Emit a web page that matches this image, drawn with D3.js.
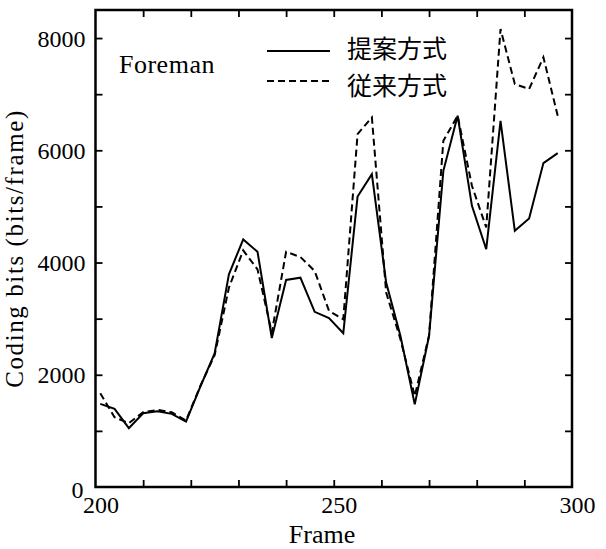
<!DOCTYPE html>
<html>
<head>
<meta charset="utf-8">
<script src="https://cdn.jsdelivr.net/npm/d3@7"></script>
<style>
  body { margin: 0; background: #fff; }
  svg { display: block; }
</style>
</head>
<body>
<div id="chart"></div>
<script>
// ─── DATA ───────────────────────────────────────────────────────────────────────
const frames = [201, 204, 207, 210, 213, 216, 219, 222, 225, 228, 231, 234, 237, 240, 243, 246, 249,
                252, 255, 258, 261, 264, 267, 270, 273, 276, 279, 282, 285, 288, 291, 294, 297];
// 提案方式 (solid)
const proposed = [1481, 1392, 1048, 1315, 1350, 1303, 1167, 1790, 2380, 3790, 4412, 4192, 2653, 3689, 3730, 3121, 3009,
                  2739, 5177, 5575, 3643, 2690, 1472, 2690, 5634, 6616, 5010, 4237, 6526, 4564, 4785, 5772, 5950];
// 従来方式 (dashed)
const conventional = [1670, 1243, 1137, 1332, 1374, 1332, 1185, 1800, 2350, 3552, 4216, 3879, 2753, 4192, 4098, 3849, 3139,
                      2988, 6289, 6587, 3465, 2632, 1620, 2700, 6170, 6616, 5367, 4624, 8162, 7181, 7092, 7658, 6616];
const xTickLabels = [200, 250, 300];
const xMinorTicks = [210, 220, 230, 240, 250, 260, 270, 280, 290];
const yTickLabels = [0, 2000, 4000, 6000, 8000];
const yMinorTicks = [1000, 2000, 3000, 4000, 5000, 6000, 7000, 8000];
const seriesNames = ['提案方式', '従来方式'];
const sequenceName = 'Foreman';

// ─── CANVAS ─────────────────────────────────────────────────────────────────────
const W = 606, H = 549;
const box = { left: 95.5, right: 572, top: 10, bottom: 487 };
const serif = '"Liberation Serif", "Times New Roman", serif';

const svg = d3.select('#chart').append('svg')
    .attr('width', W)
    .attr('height', H)
    .style('background', '#fff');

// ─── SCALES ─────────────────────────────────────────────────────────────────────
const x = d3.scaleLinear().domain([200, 300]).range([box.left, box.right]);
const y = d3.scaleLinear().domain([0, 8500]).range([box.bottom, box.top]);

// ─── TICKS (inside the box) ─────────────────────────────────────────────────────
function ticks(axis, tr) {
  const g = svg.append('g').attr('transform', tr).call(axis);
  g.select('.domain').remove();
  g.selectAll('line').attr('stroke', '#000').attr('stroke-width', 1.8);
  g.selectAll('text').remove();
}
ticks(d3.axisBottom(x).tickValues(xMinorTicks).tickSize(-7), `translate(0,${box.bottom})`);
ticks(d3.axisTop(x).tickValues(xMinorTicks).tickSize(-7), `translate(0,${box.top})`);
ticks(d3.axisLeft(y).tickValues(yMinorTicks).tickSize(-7), `translate(${box.left},0)`);
ticks(d3.axisRight(y).tickValues(yMinorTicks).tickSize(-7), `translate(${box.right},0)`);

// ─── TICK LABELS ────────────────────────────────────────────────────────────────
const xLab = svg.append('g')
    .attr('transform', `translate(5,${box.bottom})`)
    .call(d3.axisBottom(x).tickValues(xTickLabels).tickSize(0).tickFormat(d3.format('d')));
xLab.select('.domain').remove();
xLab.selectAll('text')
    .attr('y', 26).attr('dy', 0)
    .style('font-family', serif).style('font-size', '24px').attr('fill', '#000');

const yLab = svg.append('g')
    .attr('transform', `translate(${box.left},0)`)
    .call(d3.axisLeft(y).tickValues(yTickLabels).tickSize(0).tickPadding(10).tickFormat(d3.format('d')));
yLab.select('.domain').remove();
yLab.selectAll('text')
    .attr('dy', d => d === 0 ? '0.42em' : '0.34em')
    .attr('dx', d => d === 0 ? -2 : 0)
    .style('font-family', serif).style('font-size', '24px').attr('fill', '#000');

// ─── LINES ──────────────────────────────────────────────────────────────────────
const line = vals => d3.line()
    .x((d, i) => x(frames[i]))
    .y(d => y(d))(vals);

svg.append('path')
    .attr('d', line(conventional))
    .attr('fill', 'none')
    .attr('stroke', '#000')
    .attr('stroke-width', 2)
    .attr('stroke-dasharray', '7,4')
    .attr('stroke-linejoin', 'miter');

svg.append('path')
    .attr('d', line(proposed))
    .attr('fill', 'none')
    .attr('stroke', '#000')
    .attr('stroke-width', 2)
    .attr('stroke-linejoin', 'miter');

// ─── BOX ────────────────────────────────────────────────────────────────────────
svg.append('rect')
    .attr('x', box.left).attr('y', box.top)
    .attr('width', box.right - box.left).attr('height', box.bottom - box.top)
    .attr('fill', 'none').attr('stroke', '#000').attr('stroke-width', 2.5);

// ─── LEGEND ─────────────────────────────────────────────────────────────────────
const legend = [{ y: 51, ty: 49, dash: null }, { y: 81, ty: 86, dash: '7,4' }];
legend.forEach((l, i) => {
  svg.append('line')
      .attr('x1', 267).attr('x2', 330)
      .attr('y1', l.y).attr('y2', l.y)
      .attr('stroke', '#000').attr('stroke-width', 2)
      .attr('stroke-dasharray', l.dash);
  svg.append('text')
      .attr('x', 347).attr('y', l.ty)
      .attr('dy', '0.36em')
      .style('font-family', '"Noto Sans CJK JP", sans-serif')
      .style('font-size', '25px')
      .text(seriesNames[i]);
});

svg.append('text')
    .attr('x', 119).attr('y', 73)
    .style('font-family', serif).style('font-size', '26px')
    .attr('letter-spacing', '0.5')
    .text(sequenceName);

// ─── AXIS TITLES ────────────────────────────────────────────────────────────────
svg.append('text')
    .attr('x', 322).attr('y', 543)
    .attr('text-anchor', 'middle')
    .style('font-family', serif).style('font-size', '26px')
    .text('Frame');

svg.append('text')
    .attr('transform', `translate(23,${(box.top + box.bottom) / 2}) rotate(-90)`)
    .attr('text-anchor', 'middle')
    .style('font-family', serif).style('font-size', '25px')
    .attr('letter-spacing', '1.6')
    .text('Coding bits (bits/frame)');
</script>
</body>
</html>
